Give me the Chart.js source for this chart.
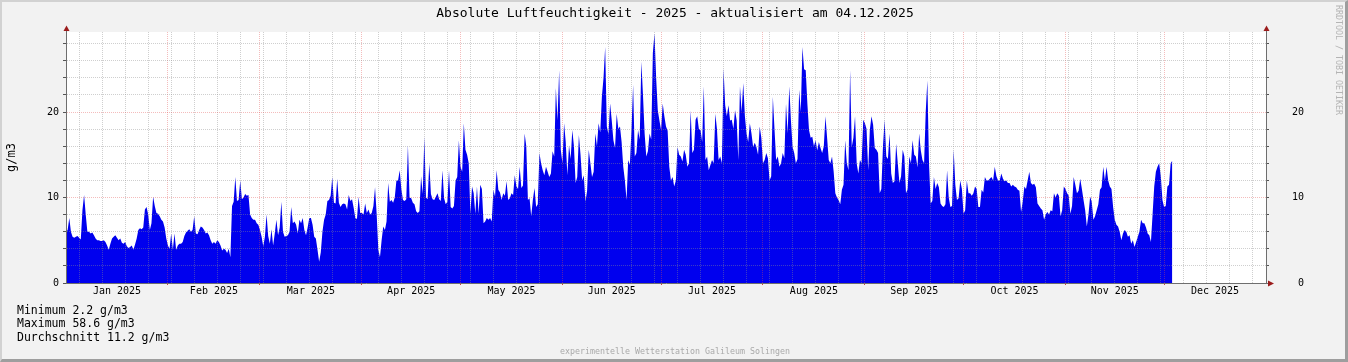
<!DOCTYPE html>
<html>
<head>
<meta charset="utf-8">
<script src="https://cdn.jsdelivr.net/npm/chart.js@4.4.1/dist/chart.umd.min.js"></script>
<style>
  html, body { margin: 0; padding: 0; background: #f2f2f2; }
  #wrap { position: relative; width: 1348px; height: 362px; }
  #frame {
    position: absolute; left: 0; top: 0; width: 1348px; height: 362px;
    box-sizing: border-box; pointer-events: none;
    border-style: solid; border-width: 2px 3px 3px 2px;
    border-color: #d2d2d2 #9e9e9e #9e9e9e #d2d2d2;
  }
</style>
</head>
<body>
<div id="wrap">
  <canvas id="absHumidity" width="1348" height="362"></canvas>
  <div id="frame"></div>
</div>
<script>
// half-day values (g/m3), two per day, starting 1 Jan 2025
const jan = [6.0, 6.2, 7.6, 6.0, 5.4, 5.3, 5.4, 5.5, 5.3, 5.1,
  8.5, 10.3, 8.0, 6.0, 6.0, 5.8, 5.9, 5.6, 5.2, 5.0,
  5.0, 4.9, 4.9, 5.0, 4.8, 4.4, 3.9, 4.6, 5.2, 5.4,
  5.6, 5.3, 5.0, 5.2, 4.7, 4.6, 4.8, 4.3, 4.1, 4.2,
  4.4, 3.9, 4.5, 5.2, 6.2, 6.4, 6.3, 6.5, 8.6, 8.9,
  8.0, 6.2, 7.0, 10.1, 9.0, 8.2, 8.1, 7.8, 7.4, 7.2,
  6.5, 5.2];
const feb = [4.4, 4.0, 5.8, 3.9, 5.8, 3.9, 4.4, 4.6, 4.6, 4.8,
  5.5, 5.9, 6.1, 6.3, 6.0, 6.2, 7.8, 5.8, 5.7, 6.2,
  6.6, 6.5, 6.2, 5.8, 5.9, 5.6, 5.0, 4.6, 4.8, 4.6,
  5.0, 4.8, 4.4, 3.8, 4.0, 3.9, 3.5, 4.0, 3.0, 9.0,
  9.5, 12.4, 9.6, 9.7, 12.0, 9.8, 10.0, 10.4, 10.2, 10.3,
  8.0, 7.6, 7.4, 7.4, 7.0, 6.8];
const mar = [6.2, 5.4, 4.3, 5.4, 8.0, 5.5, 4.6, 6.3, 4.4, 5.8,
  7.4, 5.6, 6.5, 9.5, 6.0, 5.4, 5.5, 5.6, 6.0, 8.9,
  7.0, 7.2, 6.8, 5.8, 7.4, 7.0, 7.6, 6.2, 5.6, 6.5,
  7.6, 7.6, 6.8, 5.4, 5.2, 3.9, 2.5, 3.6, 6.0, 7.4,
  8.0, 9.6, 9.7, 10.2, 12.4, 9.4, 9.3, 12.2, 9.4, 8.9,
  9.2, 9.3, 9.2, 8.6, 10.3, 9.6, 9.8, 8.8, 7.6, 7.5,
  10.1, 8.2];
const apr = [8.2, 8.0, 9.3, 8.2, 8.6, 8.0, 8.2, 9.0, 11.2, 8.0,
  3.9, 3.0, 5.0, 6.6, 6.2, 7.2, 11.7, 9.5, 9.7, 9.4,
  10.0, 12.0, 12.0, 13.2, 11.0, 9.7, 9.6, 9.8, 16.1, 10.0,
  9.9, 9.4, 9.2, 8.4, 8.2, 8.4, 12.5, 10.4, 17.1, 10.0,
  9.8, 14.0, 10.4, 9.8, 9.7, 10.1, 10.5, 9.8, 9.6, 13.2,
  9.9, 9.2, 9.5, 13.2, 8.9, 8.7, 9.0, 12.0, 12.4, 16.7];
const may = [13.6, 13.0, 18.7, 15.6, 15.0, 14.0, 8.1, 11.3, 10.5, 8.1,
  11.3, 8.1, 11.5, 11.0, 7.0, 7.2, 7.6, 7.4, 7.6, 7.2,
  10.9, 10.1, 13.2, 10.9, 10.6, 9.7, 10.5, 10.2, 11.9, 9.7,
  9.9, 10.5, 10.3, 12.6, 11.3, 11.0, 13.6, 11.1, 11.4, 17.5,
  16.0, 9.7, 9.9, 7.8, 9.7, 11.1, 8.9, 9.2, 15.2, 14.0,
  13.2, 12.6, 13.6, 13.0, 12.4, 12.8, 15.4, 14.8, 22.8, 19.0,
  24.9, 15.6];
const jun = [14.0, 18.7, 16.5, 12.6, 16.1, 14.5, 17.9, 16.0, 11.7, 12.4,
  17.3, 15.0, 12.0, 12.6, 9.5, 10.8, 15.6, 14.0, 12.4, 13.0,
  17.5, 16.0, 18.7, 17.6, 21.8, 24.0, 27.6, 18.3, 17.4, 21.0,
  19.0, 16.7, 15.8, 19.8, 18.0, 18.3, 16.5, 13.6, 12.0, 9.7,
  14.4, 13.8, 17.9, 23.2, 14.8, 15.2, 17.9, 16.8, 25.9, 22.0,
  17.5, 14.8, 15.4, 17.5, 16.8, 26.9, 29.2, 24.0, 20.2, 19.0];
const jul = [17.9, 21.0, 19.5, 18.3, 17.8, 13.6, 12.0, 12.4, 11.3, 12.0,
  15.9, 15.0, 14.8, 14.2, 15.6, 15.0, 13.6, 14.0, 20.2, 15.2,
  15.6, 19.1, 19.5, 18.0, 17.9, 16.5, 23.0, 14.4, 14.8, 13.2,
  13.8, 14.4, 14.0, 19.8, 18.0, 14.4, 14.8, 14.0, 25.1, 20.8,
  19.5, 20.8, 19.0, 19.1, 18.0, 20.2, 19.0, 14.4, 23.0, 20.0,
  23.4, 19.5, 17.5, 16.5, 18.7, 17.5, 15.9, 16.4, 15.9, 15.0,
  18.3, 17.0];
const aug = [14.0, 14.4, 15.2, 14.6, 12.0, 12.5, 21.8, 18.0, 14.4, 14.8,
  13.6, 14.0, 15.2, 14.6, 21.0, 17.5, 23.0, 19.0, 15.9, 15.2,
  14.0, 14.5, 22.6, 20.0, 27.6, 25.0, 24.9, 21.0, 17.9, 17.0,
  17.1, 16.0, 16.7, 15.5, 16.5, 15.8, 15.2, 16.0, 19.5, 17.0,
  14.4, 14.0, 14.8, 13.0, 10.5, 10.0, 9.7, 9.2, 10.9, 11.5,
  16.7, 14.0, 13.2, 24.9, 15.9, 17.0, 19.5, 14.0, 12.8, 14.4,
  14.0, 19.1];
const sep = [18.7, 18.0, 13.2, 17.9, 19.5, 18.5, 15.8, 15.6, 15.2, 10.5,
  11.0, 16.0, 19.1, 14.8, 14.5, 17.5, 12.8, 11.7, 11.9, 16.3,
  14.0, 11.7, 12.5, 15.6, 14.8, 10.5, 11.0, 14.8, 14.0, 16.7,
  15.0, 14.8, 13.5, 17.5, 15.5, 14.4, 14.0, 20.0, 23.7, 14.0,
  9.3, 9.6, 12.4, 11.0, 11.7, 11.2, 9.3, 9.0, 8.9, 9.2,
  13.2, 10.0, 8.9, 9.0, 15.6, 11.5, 9.7, 9.9, 12.0, 11.0];
const oct = [8.1, 8.5, 12.0, 10.5, 10.5, 10.2, 10.5, 11.3, 11.0, 8.9,
  8.9, 10.9, 10.6, 12.4, 12.0, 12.0, 12.2, 12.4, 12.0, 13.6,
  12.5, 12.0, 12.0, 12.8, 12.2, 11.9, 12.0, 11.7, 11.7, 11.3,
  11.5, 11.3, 11.2, 10.9, 10.8, 8.3, 9.5, 11.3, 11.0, 12.0,
  13.0, 11.7, 11.5, 11.6, 11.2, 9.3, 9.0, 8.7, 8.5, 7.4,
  8.0, 8.3, 8.0, 8.5, 8.4, 10.5, 10.0, 10.5, 10.2, 7.8,
  8.5, 11.3];
const nov = [11.0, 10.5, 10.2, 8.1, 9.0, 12.4, 11.5, 10.5, 10.8, 12.2,
  11.0, 9.7, 8.5, 6.6, 8.0, 10.1, 9.5, 7.4, 7.8, 8.5,
  9.2, 10.9, 11.2, 13.6, 12.0, 13.6, 12.0, 11.3, 11.0, 8.9,
  7.4, 6.8, 6.6, 6.0, 5.0, 5.8, 6.2, 6.0, 5.4, 5.6,
  4.6, 5.0, 4.2, 4.8, 5.4, 6.0, 7.4, 7.0, 7.0, 6.5,
  5.8, 5.6, 4.8, 8.0, 11.3, 13.0, 13.6, 14.0, 12.5, 9.7];
const dec = [8.9, 9.0, 11.3, 11.5, 14.0, 14.3];

// day of year where each month starts (last entry = 1 Jan 2026)
const monthStarts = [0, 31, 59, 90, 120, 151, 181, 212, 243, 273, 304, 334, 365];
const monthLabels = ['Jan 2025', 'Feb 2025', 'Mar 2025', 'Apr 2025', 'May 2025', 'Jun 2025',
  'Jul 2025', 'Aug 2025', 'Sep 2025', 'Oct 2025', 'Nov 2025', 'Dec 2025'];
const yTicks = [0, 2, 4, 6, 8, 10, 12, 14, 16, 18, 20, 22, 24, 26, 28];
const statLines = ['Minimum 2.2 g/m3', 'Maximum 58.6 g/m3', 'Durchschnitt 11.2 g/m3'];

const titleText = 'Absolute Luftfeuchtigkeit - 2025 - aktualisiert am 04.12.2025';
const footerText = 'experimentelle Wetterstation Galileum Solingen';
const watermark = 'RRDTOOL / TOBI OETIKER';

const MONO = "'DejaVu Sans Mono', monospace";
const GRID_GRAY = 'rgba(140, 140, 140, 0.42)';
const GRID_RED = 'rgba(225, 80, 80, 0.38)';
const AXIS = '#6e6e6e';
const CLEAR = 'rgba(0, 0, 0, 0)';

Chart.defaults.font.family = MONO;
Chart.defaults.color = '#000';

const series = [].concat(jan, feb, mar, apr, may, jun, jul, aug, sep, oct, nov, dec);
const points = series.map((v, i) => ({ x: i / 2, y: v }));

// x grid: weekly gray lines (Sundays), red lines at month starts, labels mid-month
const weekLines = [];
for (let d = 4; d < 365; d += 7) weekLines.push(d);
const majorLines = monthStarts.slice(1, 12);
const labelAt = {};
monthLabels.forEach((name, i) => {
  labelAt[(monthStarts[i] + monthStarts[i + 1]) / 2] = name;
});
const xTickValues = Array.from(new Set(weekLines.concat(majorLines, Object.keys(labelAt).map(Number))))
  .sort((a, b) => a - b);

const yMax = 29.36;

function yGridColor(ctx) {
  if (!ctx.tick) return CLEAR;
  const v = ctx.tick.value;
  if (v === 0) return CLEAR;
  return v % 10 === 0 ? GRID_RED : GRID_GRAY;
}
function yLabel(value) {
  return value % 10 === 0 ? String(value) : '';
}

const decorations = {
  id: 'decorations',
  beforeDraw(chart) {
    const { ctx, chartArea: a } = chart;
    ctx.save();
    ctx.fillStyle = '#ffffff';
    ctx.fillRect(a.left, a.top, a.right - a.left, a.bottom - a.top);
    ctx.restore();
  },
  afterDraw(chart) {
    const { ctx, chartArea: a } = chart;
    ctx.save();
    // axis extensions and arrows
    ctx.strokeStyle = AXIS;
    ctx.lineWidth = 1;
    ctx.beginPath();
    ctx.moveTo(a.left + 0.5, a.top - 4); ctx.lineTo(a.left + 0.5, a.top + 1);
    ctx.moveTo(a.right + 0.5, a.top - 4); ctx.lineTo(a.right + 0.5, a.top + 1);
    ctx.moveTo(a.right, a.bottom + 0.5); ctx.lineTo(a.right + 4, a.bottom + 0.5);
    ctx.stroke();
    ctx.fillStyle = '#9b1c1c';
    [a.left + 0.5, a.right + 0.5].forEach(x => {
      ctx.beginPath();
      ctx.moveTo(x - 3, a.top - 1);
      ctx.lineTo(x + 3, a.top - 1);
      ctx.lineTo(x, a.top - 6.5);
      ctx.closePath();
      ctx.fill();
    });
    ctx.beginPath();
    ctx.moveTo(a.right + 2, a.bottom - 2.5);
    ctx.lineTo(a.right + 2, a.bottom + 3.5);
    ctx.lineTo(a.right + 8, a.bottom + 0.5);
    ctx.closePath();
    ctx.fill();

    // title, centred on the whole image
    ctx.fillStyle = '#000';
    ctx.font = '13px ' + MONO;
    ctx.textAlign = 'center';
    ctx.textBaseline = 'middle';
    ctx.fillText(titleText, 675, 13.5);

    // summary lines
    ctx.font = '11.5px ' + MONO;
    ctx.textAlign = 'left';
    ctx.textBaseline = 'alphabetic';
    statLines.forEach((line, i) => ctx.fillText(line, 17, 313.7 + i * 13.7));

    // footer
    ctx.fillStyle = '#a9a9a9';
    ctx.font = '8.3px ' + MONO;
    ctx.textAlign = 'center';
    ctx.textBaseline = 'middle';
    ctx.fillText(footerText, 675, 351.5);

    // vertical watermark
    ctx.translate(1338.5, 5);
    ctx.rotate(Math.PI / 2);
    ctx.fillStyle = '#b4b4b4';
    ctx.textAlign = 'left';
    ctx.fillText(watermark, 0, 0);
    ctx.restore();
  }
};

new Chart(document.getElementById('absHumidity'), {
  type: 'line',
  data: {
    datasets: [{
      label: 'abs',
      data: points,
      fill: 'origin',
      backgroundColor: '#0000ee',
      borderColor: '#0000ee',
      borderWidth: 0,
      pointRadius: 0,
      tension: 0
    }]
  },
  options: {
    responsive: false,
    devicePixelRatio: 1,
    animation: false,
    events: [],
    layout: { padding: { left: 0, right: 44, top: 32, bottom: 59 } },
    plugins: {
      legend: { display: false },
      tooltip: { enabled: false },
      title: { display: false }
    },
    scales: {
      x: {
        type: 'linear',
        position: 'bottom',
        min: 0,
        max: 365,
        afterBuildTicks: s => { s.ticks = xTickValues.map(v => ({ value: v })); },
        afterFit: s => { s.height = 20; },
        grid: {
          z: 1,
          color: ctx => {
            if (!ctx.tick) return CLEAR;
            const v = ctx.tick.value;
            if (majorLines.includes(v)) return GRID_RED;
            if (weekLines.includes(v)) return GRID_GRAY;
            return CLEAR;
          },
          tickColor: ctx => (ctx.tick && majorLines.includes(ctx.tick.value)) ? '#d04040' : CLEAR,
          tickLength: 2
        },
        border: { z: 1, color: AXIS, dash: [1, 1] },
        ticks: {
          autoSkip: false,
          maxRotation: 0,
          minRotation: 0,
          padding: 0.5,
          color: '#000',
          font: { size: 10 },
          callback: v => labelAt[v] || ''
        }
      },
      y: {
        type: 'linear',
        position: 'left',
        min: 0,
        max: yMax,
        afterBuildTicks: s => { s.ticks = yTicks.map(v => ({ value: v })); },
        afterFit: s => { s.width = 66; },
        grid: { z: 1, color: yGridColor, tickColor: '#555', tickLength: 3 },
        border: { z: 1, color: AXIS, dash: [1, 1] },
        ticks: { padding: 4, color: '#000', font: { size: 10 }, callback: yLabel },
        title: {
          display: true,
          text: 'g/m3',
          color: '#000',
          font: { size: 12 },
          padding: { top: 4.3, bottom: 0 }
        }
      },
      y2: {
        type: 'linear',
        position: 'right',
        min: 0,
        max: yMax,
        afterBuildTicks: s => { s.ticks = yTicks.map(v => ({ value: v })); },
        afterFit: s => { s.width = 38; },
        grid: { z: 1, drawOnChartArea: false, tickColor: '#555', tickLength: 3 },
        border: { z: 1, color: AXIS },
        ticks: { padding: 4, crossAlign: 'far', color: '#000', font: { size: 10 }, callback: yLabel }
      }
    }
  },
  plugins: [decorations]
});
</script>
</body>
</html>
